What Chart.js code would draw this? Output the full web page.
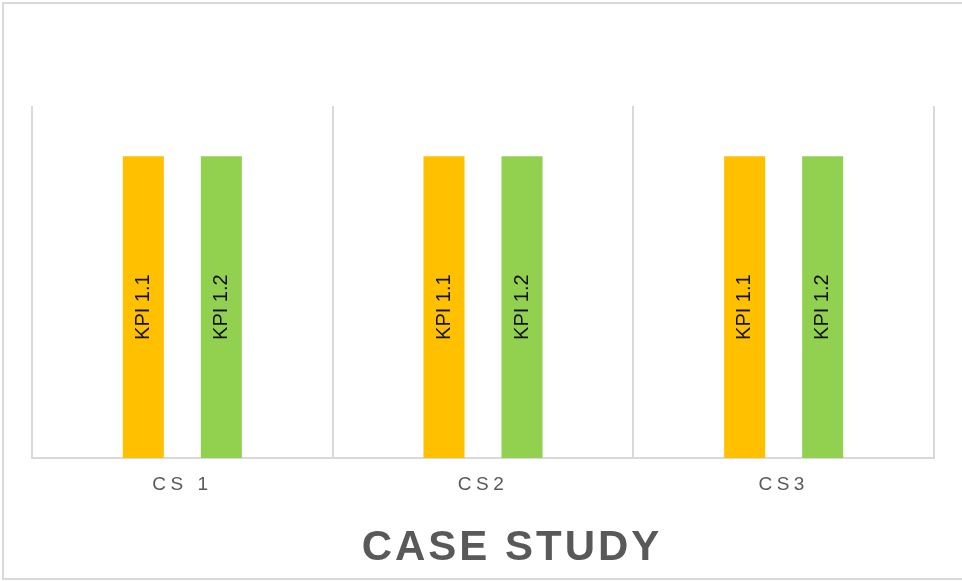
<!DOCTYPE html>
<html>
<head>
<meta charset="utf-8">
<script src="https://cdn.jsdelivr.net/npm/chart.js"></script>
<style>
  html, body { margin: 0; padding: 0; background: #fff; overflow: hidden; }
  #wrap { position: relative; width: 962px; height: 581px; }
  #frame {
    position: absolute; left: 2px; top: 2px; width: 980px; height: 574px;
    border: 2px solid #d9d9d9; pointer-events: none;
  }
  canvas { position: absolute; left: 0; top: 0; }
</style>
</head>
<body>
<div id="wrap">
  <canvas id="chart" width="962" height="581"></canvas>
  <div id="frame"></div>
</div>
<script>
// Chart values
const categories = ['CS 1', 'CS2', 'CS3'];
const seriesNames = ['KPI 1.1', 'KPI 1.2'];
const kpi11 = [6, 6, 6];
const kpi12 = [6, 6, 6];
const yMax = 7;

// letter spacing for axis labels, title gets its own (and sits a bit right of the plot centre)
const spacingPlugin = {
    id: 'spacing',
    beforeDraw(chart) {
        chart.ctx.letterSpacing = '4.5px';
        const t = chart.titleBlock;
        if (t && !t._wrapped) {
            const orig = t.draw.bind(t);
            t.draw = function(area) {
                const ctx = chart.ctx;
                const prev = ctx.letterSpacing;
                ctx.save();
                ctx.translate(29, 0);
                ctx.letterSpacing = '3px';
                orig(area);
                ctx.restore();
                ctx.letterSpacing = prev;
            };
            t._wrapped = true;
        }
    },
    beforeDatasetsDraw(chart) {
        chart.ctx.letterSpacing = '0px';
    }
};

// vertical labels inside the bars
const barLabels = {
    id: 'barLabels',
    afterDatasetsDraw(chart) {
        const ctx = chart.ctx;
        chart.data.datasets.forEach((ds, i) => {
            const meta = chart.getDatasetMeta(i);
            meta.data.forEach(bar => {
                const cy = (bar.y + bar.base) / 2;
                ctx.save();
                ctx.translate(bar.x, cy);
                ctx.rotate(-Math.PI / 2);
                ctx.font = '20px "Liberation Sans", Arial, sans-serif';
                ctx.fillStyle = '#111';
                ctx.textAlign = 'center';
                ctx.textBaseline = 'middle';
                ctx.fillText(ds.label, 0, 0);
                ctx.restore();
            });
        });
    }
};

new Chart(document.getElementById('chart'), {
    type: 'bar',
    data: {
        labels: categories,
        datasets: [{
            label: seriesNames[0],
            data: kpi11,
            backgroundColor: '#ffc000'
        }, {
            label: seriesNames[1],
            data: kpi12,
            backgroundColor: '#92d050'
        }]
    },
    options: {
        responsive: false,
        animation: false,
        devicePixelRatio: 1,
        categoryPercentage: 0.519,
        barPercentage: 0.526,
        layout: {
            padding: { left: 32, right: 28, top: 106, bottom: 4 }
        },
        plugins: {
            legend: { display: false },
            tooltip: { enabled: false },
            title: {
                display: true,
                position: 'bottom',
                text: 'CASE STUDY',
                color: '#595959',
                font: { family: '"Liberation Sans", Arial, sans-serif', size: 42, weight: 'bold' },
                padding: { top: 0, bottom: 3 }
            }
        },
        scales: {
            x: {
                grid: {
                    color: '#d9d9d9',
                    lineWidth: 2,
                    drawTicks: false,
                    offset: true
                },
                border: { display: true, color: '#d9d9d9', width: 2 },
                ticks: {
                    color: '#595959',
                    padding: 15,
                    font: { family: '"Liberation Sans", Arial, sans-serif', size: 19 }
                },
                afterFit(scale) {
                    scale.height = 65.6;
                }
            },
            y: {
                display: false,
                min: 0,
                max: yMax
            }
        }
    },
    plugins: [spacingPlugin, barLabels]
});
</script>
</body>
</html>
